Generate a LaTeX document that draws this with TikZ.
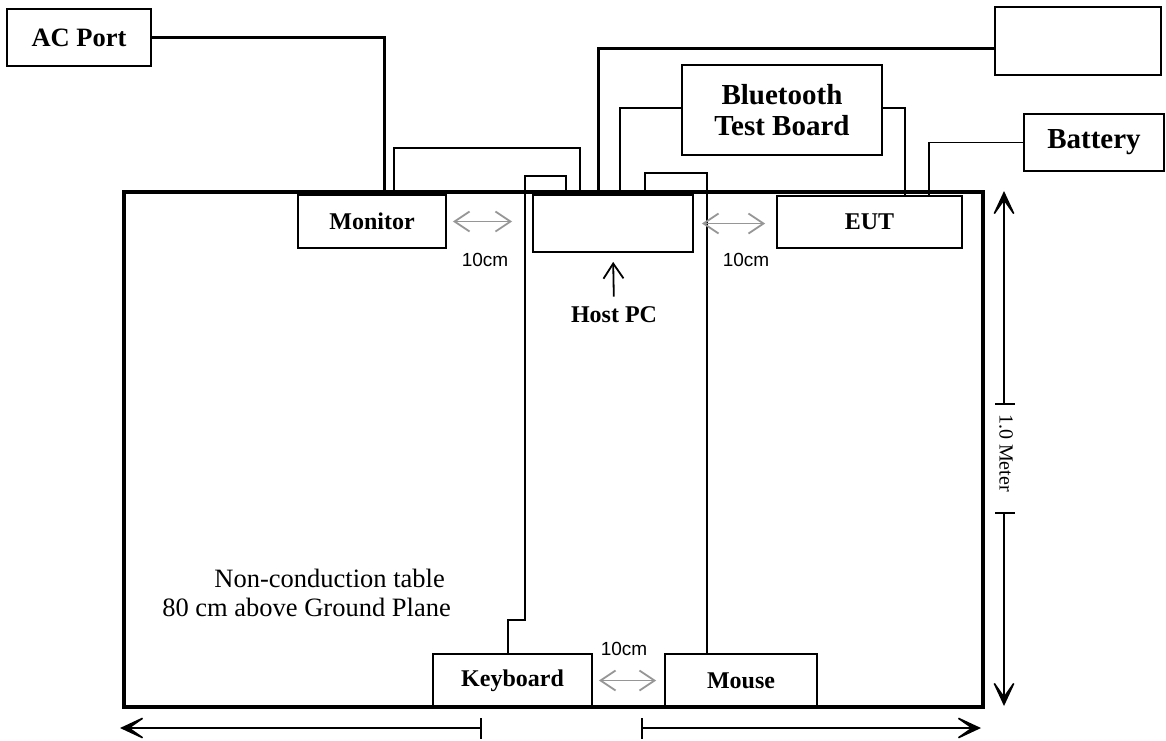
\documentclass[tikz,border=0pt]{standalone}
\usepackage{fontspec}
\setmainfont{Liberation Serif}
\newfontfamily\arialfont{Liberation Sans}
\usetikzlibrary{arrows.meta}
\begin{document}
\begin{tikzpicture}[x=1pt,y=-1pt,
        box/.style={draw, line width=1.8pt, inner sep=0pt, align=center, font=\fontsize{24}{28}\selectfont\bfseries},
        cable/.style={line width=1.8pt},
        heavy/.style={line width=3pt},
        gap/.style={gray!82, line width=1.8pt, {Straight Barb[length=15pt,width=20pt]}-{Straight Barb[length=15pt,width=20pt]}},
        dimarrow/.style={line width=1.5pt, -{Stealth[length=30pt,width=28pt,inset=20pt]}},
        gaplbl/.style={font=\arialfont\fontsize{19}{22}\selectfont},
        note/.style={anchor=base east, inner sep=0pt, font=\fontsize{26.5}{30}\selectfont}]
        \useasboundingbox (0,0) rectangle (1166,740);
        \node[draw, line width=3.5pt, inner sep=0pt, minimum width=859pt, minimum height=515pt] (table) at (553.5,449.5) {};
        \node[box, minimum width=144pt, minimum height=57pt, font=\fontsize{26.5}{30}\selectfont\bfseries] (acport) at (79,37.5) {AC Port};
        \node[box, minimum width=166pt, minimum height=68pt] (extbox) at (1078,41) {};
        \node[box, minimum width=200pt, minimum height=90pt, font=\fontsize{29}{31}\selectfont\bfseries] (btboard) at (782,110) {Bluetooth\\Test Board};
        \node[box, minimum width=140pt, minimum height=57pt, font=\fontsize{29}{31}\selectfont\bfseries] (battery) at (1094,142.5) {Battery};
        \node[box, minimum width=148pt, minimum height=53pt] (monitor) at (372,221.5) {Monitor};
        \node[box, minimum width=160pt, minimum height=57pt] (hostpc) at (613,223.5) {};
        \node[box, minimum width=185pt, minimum height=52pt] (eut) at (869.5,222) {EUT};
        \node[box, minimum width=159pt, minimum height=53pt] (keyboard) at (512.5,680.5) {Keyboard};
        \node[box, minimum width=152pt, minimum height=53pt] (mouse) at (741,680.5) {Mouse};
        \node[anchor=base, inner sep=0pt, font=\fontsize{24}{28}\selectfont\bfseries] (hostlbl) at (614,322.7) {Host PC};
        \draw[line width=1.8pt, -{Straight Barb[length=15pt,width=20pt]}, shorten <=10pt, shorten >=9pt] (hostlbl.north) -- (hostpc.south);
        \draw[heavy] (acport.east) -| ([xshift=87pt]monitor.north west);
        \draw[heavy] ([yshift=-7pt]extbox.west) -| ([xshift=66pt]hostpc.north west);
        \draw[cable] ([xshift=97pt]monitor.north west) -- ++(0,-46) -| ([xshift=48pt]hostpc.north west);
        \draw[cable] ([xshift=76pt]keyboard.north west) -- ++(0,-33) -- ++(17,0) -- ++(0,-444) -| ([xshift=34pt]hostpc.north west);
        \draw[cable] ([xshift=43pt]mouse.north west) -- ++(0,-480) -| ([xshift=113pt]hostpc.north west);
        \draw[cable] ([yshift=2pt]btboard.west) -| ([xshift=88pt]hostpc.north west);
        \draw[cable] ([yshift=2pt]btboard.east) -| ([xshift=129pt]eut.north west);
        \draw[cable] (battery.west) -| ([xshift=153pt]eut.north west);
        \draw[gap, shorten <=6pt, shorten >=20pt] (monitor.east) -- (monitor.east -| hostpc.west);
        \draw[gap, shorten <=8pt, shorten >=11pt] (hostpc.east) -- (hostpc.east -| eut.west);
        \draw[gap, shorten <=6pt, shorten >=8pt] (keyboard.east) -- (keyboard.east -| mouse.west);
        \node[gaplbl] (gapa) at (485,259.7) {10cm};
        \node[gaplbl] (gapb) at (746,259.7) {10cm};
        \node[gaplbl] (gapc) at (624,648.5) {10cm};
        \node[note] (tabletop) at (445,587) {Non-conduction table};
        \node[note] (tablebot) at (451,616) {80 cm above Ground Plane};
        \draw[dimarrow] (1004,404) -- (1004,191);
        \draw[dimarrow] (1004,513) -- (1004,706);
        \draw[line width=1.5pt] (995,404) -- (1015,404);
        \draw[line width=1.5pt] (995,513) -- (1015,513);
        \node[rotate=-90, font=\fontsize{20}{24}\selectfont] (meter) at (1006,453) {1.0 Meter};
        \draw[dimarrow] (481,728) -- (120,728);
        \draw[dimarrow] (642,728) -- (981,728);
        \draw[line width=1.5pt] (481,718) -- (481,739);
        \draw[line width=1.5pt] (642,718) -- (642,739);
    \end{tikzpicture}
\end{document}
